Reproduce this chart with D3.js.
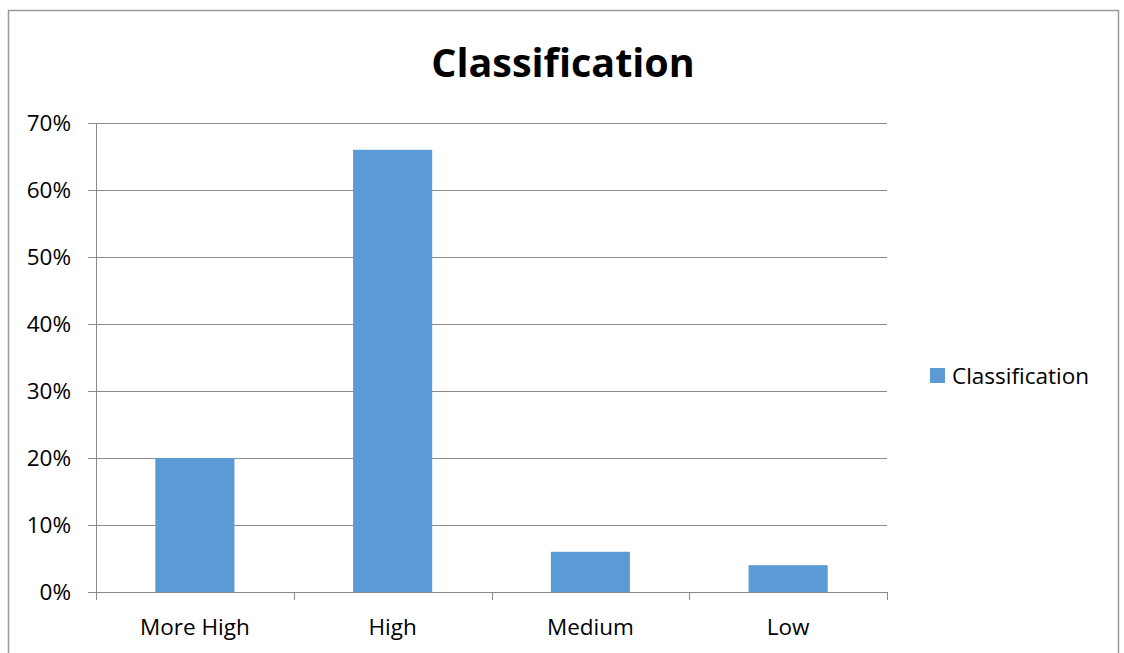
<!DOCTYPE html>
<html lang="en">
<head>
<meta charset="UTF-8">
<title>Classification</title>
<script src="https://d3js.org/d3.v7.min.js"></script>
<style>
    body { margin: 0; background: #fff; overflow: hidden; }
    svg { font-family: "Open Sans", sans-serif; font-variant-ligatures: none; }
</style>
</head>
<body>
<div id="chart"></div>
<script>
    // Data
    const categories = ["More High", "High", "Medium", "Low"];
    const values = [0.20, 0.66, 0.06, 0.04];
    const yTicks = [0, 0.1, 0.2, 0.3, 0.4, 0.5, 0.6, 0.7];
    const seriesName = "Classification";
    const title = "Classification";

    const width = 1124, height = 653;
    const plot = { left: 96, right: 887, top: 123, bottom: 592 };
    const fontSize = 22.5;

    const svg = d3.select("#chart").append("svg")
        .attr("width", width)
        .attr("height", height);

    // outer chart border
    svg.append("rect")
        .attr("x", 8.5).attr("y", 10.5)
        .attr("width", 1110).attr("height", 700)
        .attr("fill", "none")
        .attr("stroke", "#9a9a9a")
        .attr("stroke-width", 1.5);

    const x = d3.scaleBand()
        .domain(categories)
        .range([plot.left, plot.right])
        .padding(0);

    const y = d3.scaleLinear()
        .domain([0, 0.7])
        .range([plot.bottom, plot.top]);

    // gridlines
    svg.append("g")
        .selectAll("line")
        .data(yTicks)
        .join("line")
        .attr("x1", plot.left - 8)
        .attr("x2", plot.right)
        .attr("y1", d => Math.round(y(d)) + 0.5)
        .attr("y2", d => Math.round(y(d)) + 0.5)
        .attr("stroke", "#898989")
        .attr("stroke-width", 1);

    // y axis labels
    svg.append("g")
        .selectAll("text")
        .data(yTicks)
        .join("text")
        .attr("x", 71)
        .attr("y", d => y(d) + 8)
        .attr("text-anchor", "end")
        .attr("font-size", fontSize)
        .attr("fill", "#000")
        .text(d3.format(".0%"));

    // y axis line
    svg.append("line")
        .attr("x1", plot.left + 0.5).attr("x2", plot.left + 0.5)
        .attr("y1", plot.top).attr("y2", plot.bottom + 8)
        .attr("stroke", "#898989");

    // x axis tick marks at category boundaries
    const bounds = categories.map(c => x(c)).concat([plot.right]);
    svg.append("g")
        .selectAll("line")
        .data(bounds)
        .join("line")
        .attr("x1", d => Math.round(d) + 0.5)
        .attr("x2", d => Math.round(d) + 0.5)
        .attr("y1", plot.bottom)
        .attr("y2", plot.bottom + 8)
        .attr("stroke", "#898989");

    // bars (gap width 150%)
    const barW = x.bandwidth() * 0.4;
    svg.append("g")
        .selectAll("rect")
        .data(values)
        .join("rect")
        .attr("x", (d, i) => x(categories[i]) + (x.bandwidth() - barW) / 2)
        .attr("y", d => y(d))
        .attr("width", barW)
        .attr("height", d => y(0) - y(d))
        .attr("fill", "#5b9bd5");

    // redraw baseline over bars
    svg.append("line")
        .attr("x1", plot.left).attr("x2", plot.right)
        .attr("y1", plot.bottom + 0.5).attr("y2", plot.bottom + 0.5)
        .attr("stroke", "#898989");

    // x labels
    svg.append("g")
        .selectAll("text")
        .data(categories)
        .join("text")
        .attr("x", d => x(d) + x.bandwidth() / 2)
        .attr("y", 635)
        .attr("text-anchor", "middle")
        .attr("font-size", fontSize)
        .attr("fill", "#000")
        .text(d => d);

    // title
    svg.append("text")
        .attr("x", 563)
        .attr("y", 77)
        .attr("text-anchor", "middle")
        .attr("font-size", 39.5)
        .attr("font-weight", "bold")
        .attr("fill", "#000")
        .text(title);

    // legend
    const legend = svg.append("g").attr("transform", "translate(930,368)");
    legend.append("rect")
        .attr("width", 15).attr("height", 15)
        .attr("fill", "#5b9bd5");
    legend.append("text")
        .attr("x", 22).attr("y", 16)
        .attr("font-size", fontSize)
        .attr("fill", "#000")
        .text(seriesName);
</script>
</body>
</html>
